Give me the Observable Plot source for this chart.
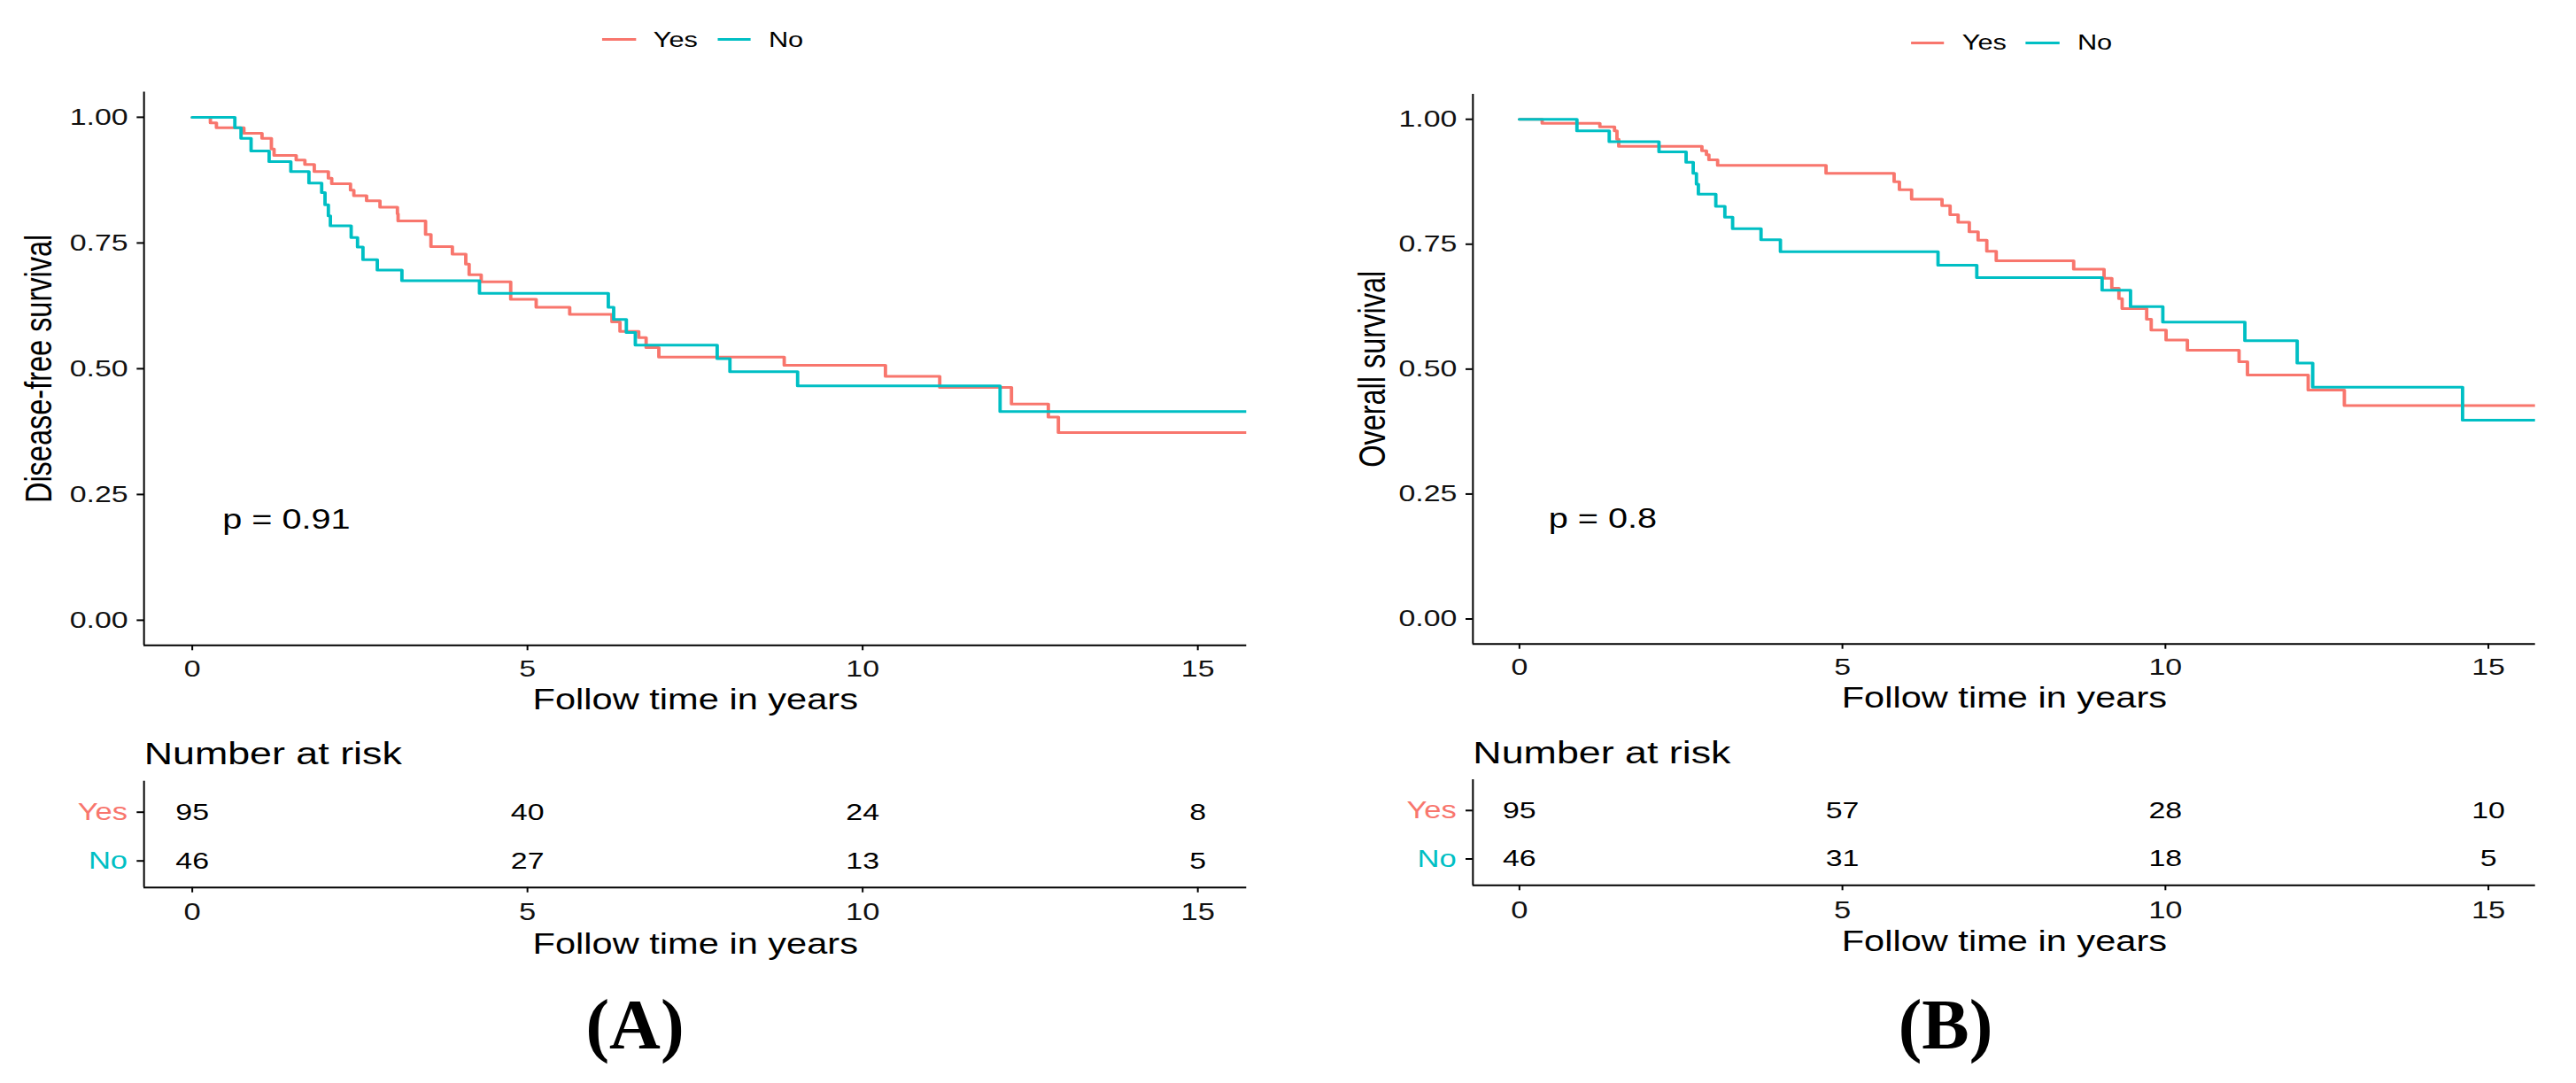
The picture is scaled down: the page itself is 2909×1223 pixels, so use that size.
<!DOCTYPE html>
<html><head><meta charset="utf-8">
<script src="https://cdn.jsdelivr.net/npm/d3@7"></script>
<script src="https://cdn.jsdelivr.net/npm/@observablehq/plot@0.6"></script>
<style>
html,body{margin:0;padding:0;background:#fff;}
#root{position:relative;width:2909px;height:1223px;overflow:hidden;background:#fff;font-family:"Liberation Sans",Arial,Helvetica,sans-serif;}
.panel{position:absolute;top:0;height:1223px;transform-origin:0 0;}
.panel svg{position:absolute;left:0;overflow:visible;max-width:none !important;}
.legend{position:absolute;display:flex;align-items:center;font-size:24px;white-space:nowrap;transform:translate(-50%,-50%);color:#000;}
.sw{display:inline-block;height:3px;}
.tag{position:absolute;font-family:"Liberation Serif","Times New Roman",serif;font-weight:bold;font-size:80px;line-height:80px;white-space:nowrap;transform:translateX(-50%);}
</style></head><body><div id="root"></div><script>
// ---------- data ----------
const groups = ["Yes", "No"];
const groupColors = ["#F8766D", "#00BFC4"];
const xTicks = [0, 5, 10, 15];
const yTicks = [0, 0.25, 0.5, 0.75, 1];
const riskTimes = [0, 5, 10, 15];

// (A) Disease-free survival
const dfsYesTime = [0, 0.27, 0.36, 0.77, 1.04, 1.18, 1.22, 1.55, 1.68, 1.82, 2.03, 2.08, 2.36, 2.41, 2.60, 2.80, 3.06, 3.07, 3.48, 3.56, 3.88, 4.08, 4.13, 4.31, 4.75, 5.13, 5.63, 6.26, 6.38, 6.66, 6.77, 6.96, 8.83, 10.34, 11.15, 12.22, 12.77, 12.92, 16.2];
const dfsYesSurv = [1, 0.989, 0.979, 0.968, 0.958, 0.937, 0.924, 0.915, 0.906, 0.892, 0.879, 0.868, 0.855, 0.844, 0.834, 0.821, 0.808, 0.794, 0.767, 0.743, 0.728, 0.708, 0.687, 0.673, 0.638, 0.622, 0.608, 0.593, 0.574, 0.562, 0.542, 0.523, 0.507, 0.485, 0.463, 0.430, 0.404, 0.373, 0.373];
const dfsNoTime = [0, 0.635, 0.727, 0.877, 1.146, 1.47, 1.74, 1.93, 1.98, 2.03, 2.06, 2.37, 2.465, 2.546, 2.76, 3.127, 4.284, 6.206, 6.286, 6.475, 6.609, 7.83, 8.02, 9.03, 12.05, 16.2];
const dfsNoSurv = [1, 0.979, 0.958, 0.933, 0.912, 0.892, 0.869, 0.850, 0.826, 0.804, 0.784, 0.761, 0.742, 0.717, 0.696, 0.675, 0.650, 0.622, 0.598, 0.572, 0.547, 0.520, 0.494, 0.466, 0.415, 0.415];
const dfsRiskYes = [95, 40, 24, 8];
const dfsRiskNo = [46, 27, 13, 5];
const dfsP = "p = 0.91";

// (B) Overall survival
const osYesTime = [0, 0.352, 1.245, 1.472, 1.51, 1.537, 2.825, 2.895, 2.933, 3.068, 4.746, 5.80, 5.882, 6.071, 6.542, 6.667, 6.791, 6.964, 7.10, 7.235, 7.381, 8.58, 9.05, 9.17, 9.28, 9.33, 9.71, 9.78, 10.01, 10.34, 11.14, 11.27, 12.21, 12.77, 16.2];
const osYesSurv = [1, 0.992, 0.985, 0.977, 0.960, 0.946, 0.937, 0.929, 0.919, 0.908, 0.892, 0.875, 0.859, 0.840, 0.827, 0.809, 0.794, 0.775, 0.758, 0.736, 0.717, 0.700, 0.682, 0.662, 0.641, 0.621, 0.600, 0.578, 0.558, 0.538, 0.515, 0.488, 0.458, 0.427, 0.427];
const osNoTime = [0, 0.89, 1.39, 2.16, 2.58, 2.69, 2.74, 2.77, 3.04, 3.18, 3.30, 3.74, 4.04, 6.48, 7.08, 9.02, 9.46, 9.96, 11.23, 12.04, 12.28, 14.60, 16.2];
const osNoSurv = [1, 0.977, 0.955, 0.935, 0.914, 0.892, 0.870, 0.850, 0.826, 0.804, 0.781, 0.759, 0.735, 0.708, 0.683, 0.658, 0.625, 0.594, 0.557, 0.512, 0.464, 0.398, 0.398];
const osRiskYes = [95, 57, 28, 10];
const osRiskNo = [46, 31, 18, 5];
const osP = "p = 0.8";

const pValueX = 0.45, pValueY = 0.2;
const xLabel = "Follow time in years";

// ---------- layout ----------
const SX = 1.28;                 // horizontal stretch of the original figure
const FONT = "'Liberation Sans', Arial, Helvetica, sans-serif";
const xDomain = [-0.72, 15.73];
const yDomain = [-0.05, 1.05];
const tableDomain = [2.545, 0.364];
const MAIN_H = 820, TABLE_TOP = 820, TABLE_H = 300;

const panels = [
  {left: 0, width: 1450, axisX0: 162, axisX1: 1407.3, top: 103.5, bottom: 728.3,
   legendCx: 793.5, legendCy: 44.8, ytitleX: 44, xtitleY: 790,
   tTop: 881.7, tBottom: 1001.7, nrBase: 862.7, t2titleY: 1066, tagCx: 717, tagTop: 1117,
   ylabel: "Disease-free survival", p: dfsP, tag: "(A)",
   curves: [[dfsYesTime, dfsYesSurv], [dfsNoTime, dfsNoSurv]], risk: [dfsRiskYes, dfsRiskNo]},
  {left: 1450, width: 1459, axisX0: 212.7, axisX1: 1412.7, top: 106, bottom: 726.7,
   legendCx: 821.5, legendCy: 48.3, ytitleX: 100.5, xtitleY: 788,
   tTop: 880, tBottom: 999.3, nrBase: 861, t2titleY: 1063, tagCx: 2197, tagTop: 1117,
   ylabel: "Overall survival", p: osP, tag: "(B)",
   curves: [[osYesTime, osYesSurv], [osNoTime, osNoSurv]], risk: [osRiskYes, osRiskNo]}
];

const root = document.getElementById("root");

for (const cfg of panels) {
  const W = cfg.width / SX;
  const curve = [];
  cfg.curves.forEach(([ts, ss], gi) => ts.forEach((t, i) => curve.push({group: groups[gi], time: t, surv: ss[i]})));
  const riskRows = [];
  cfg.risk.forEach((vals, gi) => vals.forEach((n, i) => riskRows.push({group: groups[gi], row: gi + 1, time: riskTimes[i], n})));

  const panel = document.createElement("div");
  panel.className = "panel";
  panel.style.left = cfg.left + "px";
  panel.style.width = W + "px";
  panel.style.transform = `scaleX(${SX})`;
  root.appendChild(panel);

  const mL = cfg.axisX0 / SX, mR = (cfg.width - cfg.axisX1) / SX;

  const main = Plot.plot({
    width: W, height: MAIN_H,
    marginLeft: mL, marginRight: mR, marginTop: cfg.top, marginBottom: MAIN_H - cfg.bottom,
    style: {fontFamily: FONT, background: "transparent", color: "#000"},
    x: {domain: xDomain},
    y: {domain: yDomain},
    color: {domain: groups, range: groupColors},
    marks: [
      Plot.line(curve, {x: "time", y: "surv", z: "group", stroke: "group", curve: "step-after", strokeWidth: 3, clip: true}),
      Plot.ruleX([xDomain[0]], {stroke: "#000", strokeWidth: 2 / SX}),
      Plot.ruleY([yDomain[0]], {stroke: "#000", strokeWidth: 2}),
      Plot.axisX({ticks: xTicks, tickSize: 6, tickPadding: 10, fontSize: 26.5, strokeWidth: 2 / SX, label: null, tickFormat: d3.format("d"), fill: "#111"}),
      Plot.axisY({ticks: yTicks, tickSize: 6, tickPadding: 8, fontSize: 26.5, strokeWidth: 2, label: null, tickFormat: d3.format(".2f"), fill: "#111"}),
      Plot.text([{x: pValueX, y: pValueY, label: cfg.p}], {x: "x", y: "y", text: "label", textAnchor: "start", lineAnchor: "middle", fontSize: 31, fill: "#000"}),
      Plot.text([cfg.ylabel], {text: d => d, frameAnchor: "left", rotate: -90, dx: (cfg.ytitleX - cfg.axisX0) / SX, textAnchor: "middle", lineAnchor: "middle", fontSize: 32.5, fill: "#000"}),
      Plot.text([xLabel], {text: d => d, frameAnchor: "bottom", dy: cfg.xtitleY - cfg.bottom, lineAnchor: "middle", fontSize: 32.5, fill: "#000"})
    ]
  });
  main.style.top = "0px";
  panel.appendChild(main);

  const tTop = cfg.tTop - TABLE_TOP, tBot = cfg.tBottom - TABLE_TOP;
  const table = Plot.plot({
    width: W, height: TABLE_H,
    marginLeft: mL, marginRight: mR, marginTop: tTop, marginBottom: TABLE_H - tBot,
    style: {fontFamily: FONT, background: "transparent", color: "#000"},
    x: {domain: xDomain},
    y: {domain: tableDomain},
    color: {domain: groups, range: groupColors},
    marks: [
      Plot.ruleX([xDomain[0]], {stroke: "#000", strokeWidth: 2 / SX}),
      Plot.ruleY([tableDomain[0]], {stroke: "#000", strokeWidth: 2}),
      Plot.axisX({ticks: xTicks, tickSize: 6, tickPadding: 12, fontSize: 27, strokeWidth: 2 / SX, label: null, tickFormat: d3.format("d"), fill: "#111"}),
      Plot.axisY({ticks: [1, 2], tickSize: 6, strokeWidth: 2, label: null, tickFormat: () => ""}),
      Plot.text(groups, {y: (d, i) => i + 1, text: d => d, frameAnchor: "left", dx: -14.5, textAnchor: "end", lineAnchor: "middle", fill: d => d, fontSize: 27}),
      Plot.text(riskRows, {x: "time", y: "row", text: "n", lineAnchor: "middle", fontSize: 26.5, fill: "#000"}),
      Plot.text(["Number at risk"], {text: d => d, frameAnchor: "top-left", dy: cfg.nrBase - cfg.tTop, textAnchor: "start", lineAnchor: "bottom", fontSize: 35, fill: "#000"}),
      Plot.text([xLabel], {text: d => d, frameAnchor: "bottom", dy: cfg.t2titleY - cfg.tBottom, lineAnchor: "middle", fontSize: 32.5, fill: "#000"})
    ]
  });
  table.style.top = TABLE_TOP + "px";
  panel.appendChild(table);

  const legend = document.createElement("div");
  legend.className = "legend";
  legend.style.left = (cfg.legendCx / SX) + "px";
  legend.style.top = cfg.legendCy + "px";
  legend.innerHTML = groups.map((g, i) =>
    `<span class="sw" style="width:29.7px;background:${groupColors[i]};margin-right:15.6px;${i ? "margin-left:17.2px;" : ""}"></span><span>${g}</span>`).join("");
  panel.appendChild(legend);

  const tag = document.createElement("div");
  tag.className = "tag";
  tag.style.left = cfg.tagCx + "px";
  tag.style.top = cfg.tagTop + "px";
  tag.textContent = cfg.tag;
  root.appendChild(tag);
}
</script></body></html>
